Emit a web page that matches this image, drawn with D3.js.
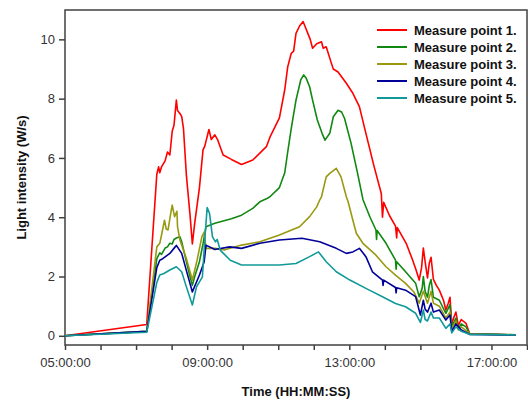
<!DOCTYPE html>
<html>
<head>
<meta charset="utf-8">
<script src="https://cdn.jsdelivr.net/npm/d3@7"></script>
<style>
  body { margin: 0; background: #fff; }
  svg { display: block; font-family: "Liberation Sans", Arial, sans-serif; }
</style>
</head>
<body>
<div id="chart"></div>
<script>
// Series names and colours.
var seriesNames = ["Measure point 1.", "Measure point 2.", "Measure point 3.", "Measure point 4.", "Measure point 5."];
var seriesColors = ["#ff0000", "#118811", "#999911", "#000099", "#119999"];

// Measure point 1 (red)
var times1 = ["05:00","07:18","07:35","07:38","07:40","07:43","07:49","07:53","07:57","08:01","08:04","08:08","08:10","08:14","08:17","08:20","08:25","08:31","08:35","08:39","08:47","08:53","08:56","09:03","09:07","09:13","09:18","09:27","09:41","09:58","10:17","10:40","10:46","11:02","11:11","11:16","11:22","11:26","11:30","11:36","11:42","11:44","11:50","11:54","11:58","12:05","12:13","12:16","12:21","12:29","12:33","12:37","12:41","12:55","13:06","13:17","13:28","13:42","13:54","13:56","13:58","14:08","14:18","14:20","14:21","14:36","14:47","14:53","14:58","15:02","15:05","15:08","15:12","15:15","15:18","15:22","15:27","15:32","15:39","15:43","15:47","15:50","15:53","15:57","16:00","16:04","16:09","16:17","16:23","16:56","17:41"];
var values1 = [0,0.38,5.45,5.7,5.5,5.7,5.9,6.2,6.1,6.9,7.1,7.95,7.6,7.5,7.4,7.0,5.4,4.1,3.1,3.8,5.0,6.27,6.4,6.96,6.62,6.78,6.6,6.1,5.95,5.78,5.93,6.38,6.7,7.35,8.3,9.07,9.53,9.6,10.2,10.45,10.6,10.5,10.2,10.0,9.7,9.85,9.92,9.7,9.75,9.24,9.0,8.95,8.9,8.52,8.18,7.73,6.83,5.7,4.8,4.0,4.5,4.05,3.7,3.3,3.65,3.12,2.55,2.2,1.88,2.3,2.96,2.5,1.95,2.45,2.65,1.9,1.7,1.54,1.2,0.87,1.1,1.3,0.4,0.65,0.8,0.35,0.55,0.42,0.08,0.05,0.03];

// Measure point 2 (green)
var times2 = ["05:00","07:18","07:35","07:40","07:43","07:49","07:53","07:57","08:01","08:04","08:08","08:14","08:17","08:25","08:31","08:35","08:39","08:47","08:53","08:58","09:13","09:41","09:58","10:17","10:29","10:40","10:46","11:02","11:11","11:16","11:22","11:30","11:38","11:43","11:47","11:53","11:58","12:06","12:14","12:19","12:27","12:33","12:41","12:47","12:52","13:03","13:14","13:23","13:35","13:45","13:46","13:47","14:02","14:18","14:19","14:20","14:35","14:52","14:58","15:03","15:05","15:08","15:12","15:15","15:18","15:22","15:32","15:43","15:50","15:53","16:00","16:04","16:09","16:17","16:23","17:41"];
var values2 = [0,0.15,2.6,2.8,2.75,2.96,3.0,3.12,3.1,3.25,3.3,3.34,3.17,2.5,2.0,1.7,2.0,2.5,3.1,3.68,3.8,3.95,4.07,4.3,4.52,4.62,4.69,5.0,5.5,6.2,7.0,7.95,8.63,8.8,8.7,8.4,7.95,7.28,6.83,6.6,6.83,7.39,7.61,7.55,7.33,6.49,5.48,4.6,4.0,3.57,3.25,3.55,3.12,2.55,2.25,2.5,2.16,1.77,1.32,1.6,2.0,1.5,1.3,1.7,1.9,1.3,1.2,0.76,1.05,0.3,0.6,0.25,0.4,0.3,0.08,0.03];

// Measure point 3 (olive)
var times3 = ["05:00","07:18","07:35","07:40","07:43","07:48","07:51","07:54","07:58","08:01","08:05","08:09","08:10","08:14","08:25","08:35","08:43","08:51","08:55","08:58","09:13","09:30","09:58","10:29","11:02","11:36","11:53","12:05","12:10","12:13","12:21","12:27","12:38","12:46","12:55","12:58","13:06","13:12","13:23","13:45","14:02","14:18","14:35","14:49","14:58","15:05","15:12","15:18","15:22","15:32","15:43","15:50","15:53","16:00","16:04","16:09","16:23","17:41"];
var values3 = [0,0.15,3.0,3.12,3.4,3.9,3.6,3.57,4.07,4.41,4.02,4.2,3.68,3.23,2.6,1.88,2.55,3.34,3.5,2.95,2.95,2.9,3.06,3.17,3.4,3.68,4.02,4.35,4.58,4.69,5.36,5.48,5.65,5.36,4.69,4.52,3.9,3.45,3.12,2.72,2.33,2.05,1.77,1.48,1.1,1.5,1.1,1.5,1.1,1.0,0.6,0.8,0.25,0.5,0.2,0.3,0.08,0.03];

// Measure point 4 (navy)
var times4 = ["05:00","07:18","07:35","07:40","07:45","07:57","08:06","08:08","08:17","08:25","08:35","08:47","08:55","08:58","09:13","09:38","09:58","10:29","11:02","11:40","12:10","12:38","12:55","13:06","13:17","13:28","13:39","13:56","13:57","13:58","14:18","14:19","14:20","14:35","14:52","15:00","15:05","15:08","15:12","15:18","15:22","15:32","15:43","15:50","15:53","16:00","16:09","16:23","17:41"];
var values4 = [0,0.15,2.3,2.55,2.6,2.78,3.0,3.05,2.78,2.2,1.48,2.05,2.5,3.06,2.91,3.0,2.95,3.12,3.23,3.29,3.17,2.95,2.78,2.83,2.95,2.67,2.16,1.88,1.7,1.88,1.63,1.45,1.62,1.54,1.32,0.7,1.2,0.9,0.8,1.1,0.8,0.87,0.53,0.7,0.15,0.4,0.2,0.05,0.03];

// Measure point 5 (teal)
var times5 = ["05:00","07:18","07:35","07:40","07:47","07:57","08:08","08:17","08:24","08:35","08:42","08:52","08:56","09:00","09:04","09:09","09:14","09:17","09:22","09:39","09:58","10:29","11:02","11:30","11:53","12:08","12:21","12:38","13:01","13:28","13:56","14:18","14:35","14:52","15:00","15:05","15:08","15:12","15:18","15:22","15:32","15:43","15:50","15:53","16:00","16:09","16:23","17:41"];
var values5 = [0,0.12,1.8,2.05,2.1,2.22,2.33,2.16,1.71,1.04,1.65,1.99,3.23,4.33,4.13,3.34,3.17,3.25,2.89,2.55,2.39,2.39,2.39,2.44,2.67,2.83,2.5,2.16,1.88,1.6,1.32,1.09,0.98,0.76,0.45,0.87,0.55,0.5,0.8,0.6,0.6,0.25,0.4,0.1,0.3,0.15,0.05,0.03];

// Axis ticks
var yTicks = [0, 2, 4, 6, 8, 10];
var xLabelHours = ["05:00", "09:00", "13:00", "17:00"];

var allTimes = [times1, times2, times3, times4, times5];
var allValues = [values1, values2, values3, values4, values5];

var width = 528, height = 400;
var margin = {left: 65, right: 1, top: 10, bottom: 55};
var parseTime = d3.timeParse("%H:%M");

var x = d3.scaleTime()
    .domain([parseTime("05:00"), parseTime("18:00")])
    .range([margin.left, width - margin.right]);
var y = d3.scaleLinear()
    .domain([-0.31, 10.99])
    .range([height - margin.bottom, margin.top]);

var svg = d3.select("#chart").append("svg")
    .attr("width", width)
    .attr("height", height);

var axisColor = "#404040";

// X axis: a tick every hour, label every four hours.
var xAxis = d3.axisBottom(x)
    .ticks(d3.timeHour.every(1))
    .tickSizeOuter(0)
    .tickSize(5)
    .tickFormat(function(d) {
      var s = d3.timeFormat("%H:%M")(d);
      return xLabelHours.indexOf(s) >= 0 ? d3.timeFormat("%H:%M:%S")(d) : "";
    });
var gx = svg.append("g")
    .attr("transform", "translate(0," + (height - margin.bottom) + ")")
    .call(xAxis);

var yAxis = d3.axisLeft(y)
    .tickValues(yTicks)
    .tickSizeOuter(0)
    .tickSize(6)
    .tickPadding(4);
var gy = svg.append("g")
    .attr("transform", "translate(" + margin.left + ",0)")
    .call(yAxis);

[gx, gy].forEach(function(g) {
  g.select(".domain").remove();
  g.selectAll(".tick line").attr("stroke", axisColor).attr("stroke-width", 1.5);
  g.selectAll(".tick text")
      .attr("fill", "#333")
      .style("font-size", "13px")
      .style("font-family", "'Liberation Sans', Arial, sans-serif");
});
gx.selectAll(".tick text").attr("dy", "1.05em");

// Plot frame
svg.append("rect")
    .attr("x", margin.left)
    .attr("y", margin.top)
    .attr("width", width - margin.right - margin.left)
    .attr("height", height - margin.bottom - margin.top)
    .attr("fill", "none")
    .attr("stroke", axisColor)
    .attr("stroke-width", 1.5);

// Lines
var line = d3.line()
    .x(function(d) { return x(d.t); })
    .y(function(d) { return y(d.v); });

allTimes.forEach(function(times, i) {
  var pts = times.map(function(t, j) { return {t: parseTime(t), v: allValues[i][j]}; });
  svg.append("path")
      .datum(pts)
      .attr("d", line)
      .attr("fill", "none")
      .attr("stroke", seriesColors[i])
      .attr("stroke-width", 1.6)
      .attr("stroke-linejoin", "round");
});

// Legend
var legend = svg.append("g").attr("transform", "translate(377,30)");
seriesNames.forEach(function(name, i) {
  var row = legend.append("g").attr("transform", "translate(0," + (i * 17) + ")");
  row.append("line")
      .attr("x1", 0).attr("x2", 30)
      .attr("y1", 0).attr("y2", 0)
      .attr("stroke", seriesColors[i])
      .attr("stroke-width", 2);
  row.append("text")
      .attr("x", 37)
      .attr("y", 0)
      .attr("dy", "0.35em")
      .style("font-size", "13px")
      .style("font-weight", "bold")
      .attr("fill", "#111")
      .text(name);
});

// Axis titles
svg.append("text")
    .attr("x", (margin.left + width - margin.right) / 2)
    .attr("y", 396)
    .attr("text-anchor", "middle")
    .style("font-size", "13px")
    .style("font-weight", "bold")
    .attr("fill", "#111")
    .text("Time (HH:MM:SS)");

svg.append("text")
    .attr("transform", "translate(26," + ((margin.top + height - margin.bottom) / 2) + ") rotate(-90)")
    .attr("text-anchor", "middle")
    .style("font-size", "13px")
    .style("font-weight", "bold")
    .attr("fill", "#111")
    .text("Light intensity (W/s)");
</script>
</body>
</html>
